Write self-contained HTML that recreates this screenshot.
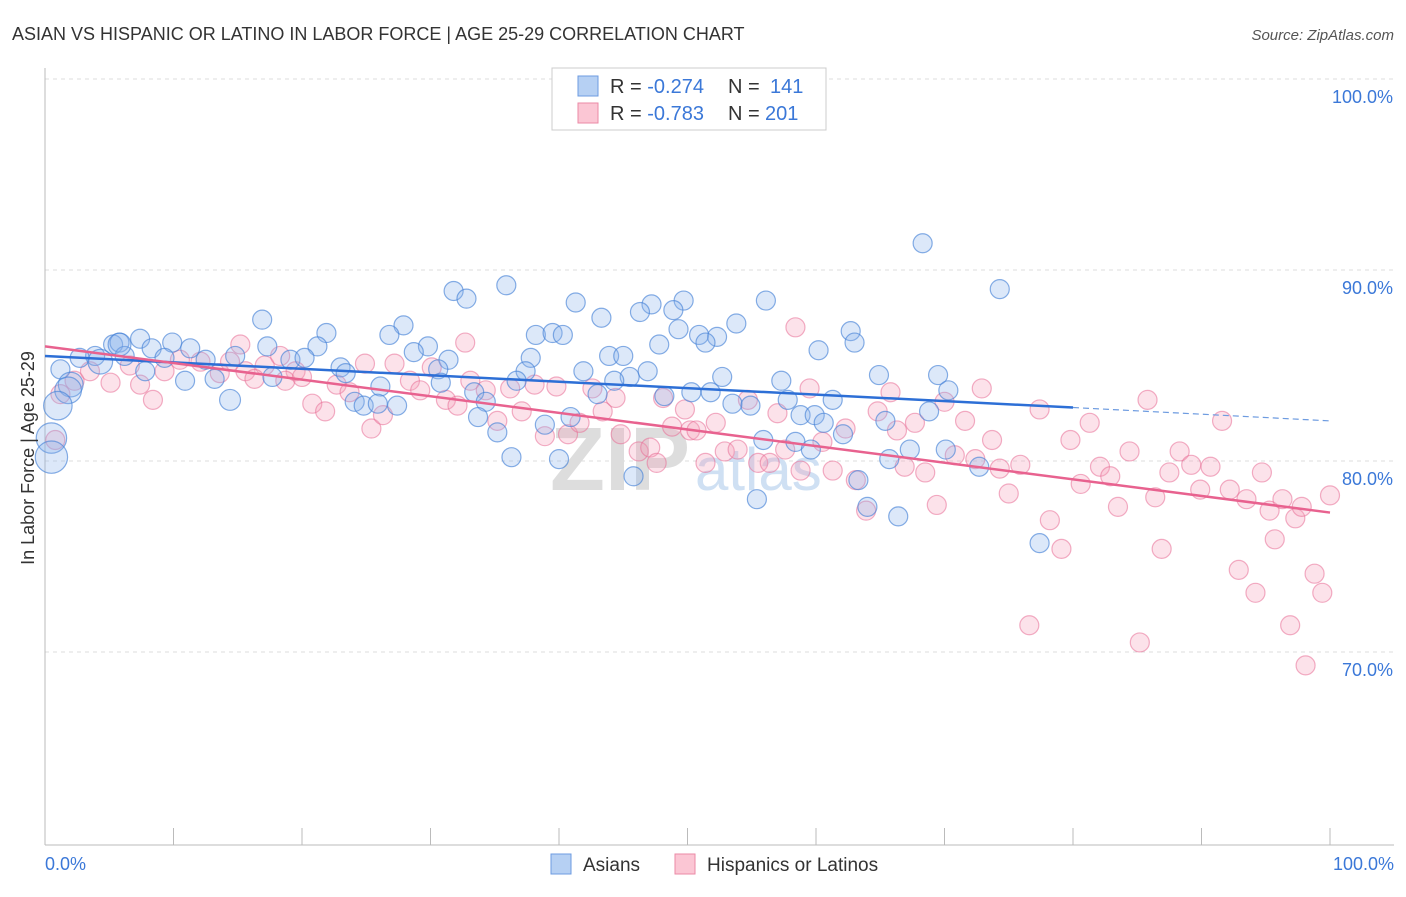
<!DOCTYPE html>
<html><head><meta charset="utf-8"><style>
body{margin:0;background:#fff;font-family:"Liberation Sans",sans-serif;}
svg text{font-family:"Liberation Sans",sans-serif;}
</style></head><body>
<svg id="chart" width="1406" height="892">
<text x="12" y="40" font-size="18" fill="#333">ASIAN VS HISPANIC OR LATINO IN LABOR FORCE | AGE 25-29 CORRELATION CHART</text>
<text x="1394" y="40" font-size="15" fill="#555" text-anchor="end" font-style="italic">Source: ZipAtlas.com</text>
<g id="grid"></g>
<text x="690" y="490" font-size="90" fill="#ddd" font-weight="bold" text-anchor="end" font-family="Liberation Serif">ZIP</text>
<text x="695" y="490" font-size="60" fill="#cfe0f3">atlas</text>
<g id="pts"></g>
<g id="lines"></g>
<text transform="translate(34,458) rotate(-90)" font-size="18" fill="#333" text-anchor="middle">In Labor Force | Age 25-29</text>
<text x="45" y="870" font-size="18" fill="#3b78d8">0.0%</text>
<text x="1394" y="870" font-size="18" fill="#3b78d8" text-anchor="end">100.0%</text>
<g>
<rect x="552" y="68" width="274" height="62" fill="#fff" stroke="#ccc"/>
<rect x="578" y="76" width="20" height="20" fill="#b6d0f3" stroke="#6d9be0"/>
<rect x="578" y="103" width="20" height="20" fill="#fbc6d4" stroke="#eb8aa6"/>
<text x="610" y="93" font-size="20" fill="#333">R = <tspan fill="#3b78d8">-0.274</tspan><tspan x="728">N = </tspan><tspan x="770" fill="#3b78d8">141</tspan></text>
<text x="610" y="120" font-size="20" fill="#333">R = <tspan fill="#3b78d8">-0.783</tspan><tspan x="728">N = </tspan><tspan fill="#3b78d8" x="765">201</tspan></text>
</g>
<g>
<rect x="551" y="854" width="20" height="20" fill="#b6d0f3" stroke="#6d9be0"/>
<text x="583" y="871" font-size="19" fill="#333">Asians</text>
<rect x="675" y="854" width="20" height="20" fill="#fbc6d4" stroke="#eb8aa6"/>
<text x="707" y="871" font-size="19" fill="#333">Hispanics or Latinos</text>
</g>
</svg>
<script>
const yTicks=[100,90,80,70];
const yTickLabels=["100.0%","90.0%","80.0%","70.0%"];
const xTicks=[0,10,20,30,40,50,60,70,80,90,100];
const asianX=[68.3,74.3,31.8,35.9,32.8,41.3,49.7,56.1,47.2,46.3,48.9,43.3,16.9,27.9,53.8,62.7,21.9,26.8,38.2,39.5,40.3,50.9,49.3,52.3,51.4,47.8,63.0,60.2,7.4,5.3,5.8,8.3,9.9,11.3,17.3,21.2,29.8,3.9,2.7,6.2,9.3,12.5,14.8,19.1,20.2,23.0,28.7,31.4,37.8,43.9,45.0,30.6,37.4,41.9,46.9,45.5,44.3,64.9,69.5,70.3,10.9,13.2,17.7,23.4,26.1,30.8,36.7,52.7,57.3,1.2,2.0,1.8,7.8,14.4,24.1,24.8,25.9,27.4,33.4,34.3,43.0,48.2,50.3,51.8,53.5,54.9,57.8,61.3,68.8,33.7,40.9,58.8,59.9,60.6,65.4,35.2,38.9,55.9,58.4,62.1,59.6,67.3,70.1,36.3,40.0,65.7,72.7,45.8,63.3,55.4,64.0,66.4,77.4,0.5,0.5,1.0,4.3,5.8];
const asianY=[91.4,89.0,88.9,89.2,88.5,88.3,88.4,88.4,88.2,87.8,87.9,87.5,87.4,87.1,87.2,86.8,86.7,86.6,86.6,86.7,86.6,86.6,86.9,86.5,86.2,86.1,86.2,85.8,86.4,86.1,86.2,85.9,86.2,85.9,86.0,86.0,86.0,85.5,85.4,85.5,85.4,85.3,85.5,85.3,85.4,84.9,85.7,85.3,85.4,85.5,85.5,84.8,84.7,84.7,84.7,84.4,84.2,84.5,84.5,83.7,84.2,84.3,84.4,84.6,83.9,84.1,84.2,84.4,84.2,84.8,84.0,83.7,84.7,83.2,83.1,82.9,83.0,82.9,83.6,83.1,83.5,83.4,83.6,83.6,83.0,82.9,83.2,83.2,82.6,82.3,82.3,82.4,82.4,82.0,82.1,81.5,81.9,81.1,81.0,81.4,80.6,80.6,80.6,80.2,80.1,80.1,79.7,79.2,79.0,78.0,77.6,77.1,75.7,81.2,80.2,82.9,85.2,86.1];
const asianSize=[1,1,1,1,1,1,1,1,1,1,1,1,1,1,1,1,1,1,1,1,1,1,1,1,1,1,1,1,1,1,1,1,1,1,1,1,1,1,1,1,1,1,1,1,1,1,1,1,1,1,1,1,1,1,1,1,1,1,1,1,1,1,1,1,1,1,1,1,1,1,1.3,1.4,1,1.1,1,1,1,1,1,1,1,1,1,1,1,1,1,1,1,1,1,1,1,1,1,1,1,1,1,1,1,1,1,1,1,1,1,1,1,1,1,1,1,1.6,1.7,1.5,1.3,1.2];
const hispX=[58.4,32.7,15.2,1.2,0.8,2.3,3.5,5.1,6.6,8.4,9.3,10.5,12.1,13.6,15.6,17.1,18.3,19.5,20.8,21.8,22.7,23.7,24.9,25.4,26.3,27.2,28.4,29.2,30.1,31.2,32.1,33.1,34.3,35.2,36.2,37.1,38.1,38.9,39.8,40.7,41.6,42.6,43.4,44.4,44.8,46.2,47.1,47.6,48.1,48.8,49.8,50.2,50.7,51.4,52.2,52.9,53.9,54.7,55.5,56.4,57.0,57.6,58.8,59.5,60.5,61.3,62.3,63.1,63.9,64.8,65.8,66.3,66.9,67.7,68.5,69.4,70.0,70.8,71.6,72.4,72.9,73.7,74.3,75.0,75.9,76.6,77.4,78.2,79.1,79.8,80.6,81.3,82.1,82.9,83.5,84.4,85.2,85.8,86.4,86.9,87.5,88.3,89.2,89.9,90.7,91.6,92.2,92.9,93.5,94.2,94.7,95.3,95.7,96.3,96.9,97.3,98.1,98.8,99.4,100,97.8,7.4,14.4,16.3,18.7,20.0];
const hispY=[87.0,86.2,86.1,83.5,81.1,84.2,84.7,84.1,85.0,83.2,84.7,85.3,85.2,84.6,84.7,85.0,85.5,84.7,83.0,82.6,84.0,83.6,85.1,81.7,82.4,85.1,84.2,83.7,84.9,83.2,82.9,84.2,83.7,82.1,83.8,82.6,84.0,81.3,83.9,81.4,82.0,83.8,82.6,83.3,81.4,80.5,80.7,79.9,83.3,81.8,82.7,81.6,81.6,79.9,82.0,80.5,80.6,83.2,79.9,79.9,82.5,80.6,79.5,83.8,81.0,79.5,81.7,79.0,77.4,82.6,83.6,81.6,79.7,82.0,79.4,77.7,83.1,80.3,82.1,80.1,83.8,81.1,79.6,78.3,79.8,71.4,82.7,76.9,75.4,81.1,78.8,82.0,79.7,79.2,77.6,80.5,70.5,83.2,78.1,75.4,79.4,80.5,79.8,78.5,79.7,82.1,78.5,74.3,78.0,73.1,79.4,77.4,75.9,78.0,71.4,77.0,69.3,74.1,73.1,78.2,77.6,84.0,85.2,84.3,84.2,84.4];
const asianTrend=[85.5,82.8];
const asianTrendExt=82.1;
const hispTrend=[86.0,77.3];
const X0=45,X1=1330,Y100=79,PX=19.1;
const sx=v=>X0+(X1-X0)*v/100;
const sy=v=>Y100+(100-v)*PX;
const NS="http://www.w3.org/2000/svg";
function mk(t,a,p){const e=document.createElementNS(NS,t);for(const k in a)e.setAttribute(k,a[k]);p.appendChild(e);return e;}
const grid=document.getElementById('grid');
yTicks.forEach((t,i)=>{
 const l=mk('line',{x1:45,x2:1394,y1:sy(t),y2:sy(t),stroke:'#ddd','stroke-dasharray':'4,4'},grid);
 
 
 const tx=mk('text',{x:1393,y:sy(t)+24,'font-size':18,fill:'#3b78d8','text-anchor':'end'},grid);
 tx.textContent=yTickLabels[i];
 
 
});
const ax=mk('line',{x1:45,x2:1394,y1:845,y2:845,stroke:'#bbb'},grid);


const ay=mk('line',{x1:45,x2:45,y1:68,y2:845,stroke:'#bbb'},grid);


xTicks.forEach(t=>{
 const l=mk('line',{x1:sx(t),x2:sx(t),y1:828,y2:845,stroke:'#bbb'},grid);
 
 
});
const pts=document.getElementById('pts');
hispX.forEach((x,i)=>{
 const c=mk('circle',{cx:sx(x),cy:sy(hispY[i]),r:9.5,fill:'rgba(246,160,187,0.3)',stroke:'rgba(232,110,150,0.55)','stroke-width':1.2},pts);
 
 
});
asianX.forEach((x,i)=>{
 const c=mk('circle',{cx:sx(x),cy:sy(asianY[i]),r:9.5*asianSize[i],fill:'rgba(140,180,235,0.3)',stroke:'rgba(70,130,215,0.65)','stroke-width':1.2},pts);
 
 
});
const lines=document.getElementById('lines');
const bl=mk('line',{x1:sx(0),y1:sy(asianTrend[0]),x2:sx(80),y2:sy(asianTrend[1]),stroke:'#2d6fd6','stroke-width':2.5},lines);


const bd=mk('line',{x1:sx(80),y1:sy(asianTrend[1]),x2:sx(100),y2:sy(asianTrendExt),stroke:'#6d9be0','stroke-width':1.2,'stroke-dasharray':'6,4'},lines);


const pl=mk('line',{x1:sx(0),y1:sy(hispTrend[0]),x2:sx(100),y2:sy(hispTrend[1]),stroke:'#e8628f','stroke-width':2.5},lines);


</script>
</body></html>
